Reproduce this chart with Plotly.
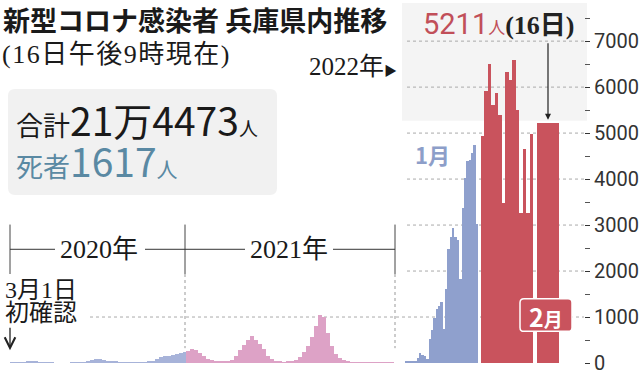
import plotly.graph_objects as go
import pandas as pd

# ---------------- data ----------------
weeks_2020 = pd.date_range("2020-03-01", periods=44, freq="7D")
cases_2020 = [3, 8, 10, 12, 25, 40, 35, 20, 10, 5, 2, 0, 0, 0, 0, 1, 2, 4, 10, 30,
              55, 80, 95, 70, 50, 35, 25, 20, 18, 15, 15, 15, 18, 20, 30, 50,
              90, 130, 160, 150, 180, 200, 210, 240]
weeks_2021 = pd.date_range("2021-01-01", periods=52, freq="7D")
cases_2021 = [260, 300, 290, 220, 150, 95, 55, 40, 25, 25,
              40, 75, 150, 280, 400, 500, 580, 500, 420, 300,
              160, 90, 45, 30, 20, 30, 45, 70, 120, 240,
              360, 560, 800, 1040, 1000, 650, 380, 200, 100, 60,
              30, 20, 15, 10, 8, 8, 7, 7, 8, 10, 12, 15]
jan_days = list(range(1, 32))
cases_jan2022 = [25, 25, 30, 40, 50, 115, 220, 170, 150, 90, 515, 710, 975, 1170,
                 1250, 1335, 730, 1620, 2480, 2730, 2945, 2730, 2665, 1835, 3375,
                 4020, 4385, 4415, 4560, 4740, 3015]
feb_days = list(range(1, 16))
cases_feb2022 = [4940, 5920, 6510, 5610, 5865, 5400, 3480, 6330, 6150, 6580,
                 5505, 3270, 4645, 3270, 4980]
latest_day = [16]
latest_cases = [5211]

y_ticks = [0, 1000, 2000, 3000, 4000, 5000, 6000, 7000]
y_tick_labels = [str(v) for v in y_ticks]

title_text = "新型コロナ感染者 兵庫県内推移"
subtitle_text = "(16日午後9時現在)"
total_num = "21万4473"
death_num = "1617"
latest_label = "5211"

# ---------------- style ----------------
BLUE20 = "#a7b3d9"
PINK = "#dda2c6"
BLUE22 = "#8fa0cd"
RED = "#c9535d"
SANS = "Noto Sans CJK JP"
SERIF = "Liberation Serif, Noto Sans CJK JP"
NUM = "Roboto, Noto Sans CJK JP"

W, H = 640, 375
ML, MR, MT, MB = 0, 56, 10, 8
PW = W - ML - MR
PH = H - MT - MB
PB = H - MB


def px(x):
    return (x - ML) / PW


def py(y):
    return (PB - y) / PH


DAY_MS = 86400000


def bar(x, y, color, axis, width):
    return go.Bar(x=x, y=y, width=width, offset=0 if axis == "x" else None,
                  marker=dict(color=color, line=dict(width=0)), xaxis=axis, yaxis="y",
                  hoverinfo="skip")


fig = go.Figure()
fig.add_trace(bar(weeks_2020, cases_2020, BLUE20, "x", 7 * DAY_MS))
fig.add_trace(bar(weeks_2021, cases_2021, PINK, "x", 7 * DAY_MS))
fig.add_trace(bar(jan_days, cases_jan2022, BLUE22, "x2", 1))
fig.add_trace(bar(feb_days, cases_feb2022, RED, "x3", 1))
fig.add_trace(bar(latest_day, latest_cases, RED, "x4", 1))

shapes = []
# light gray panel behind 2022 header
shapes.append(dict(type="rect", xref="paper", yref="paper", x0=px(402), x1=px(587),
                   y0=py(122), y1=py(3), fillcolor="#f4f4f4", line=dict(width=0), layer="below"))


def rounded_rect(x0, y0, x1, y1, r):
    X0, X1 = px(x0), px(x1)
    Y0, Y1 = py(y0), py(y1)  # Y0 top, Y1 bottom
    rx = r / PW
    ry = r / PH
    return (f"M {X0+rx},{Y0} L {X1-rx},{Y0} Q {X1},{Y0} {X1},{Y0-ry} "
            f"L {X1},{Y1+ry} Q {X1},{Y1} {X1-rx},{Y1} L {X0+rx},{Y1} "
            f"Q {X0},{Y1} {X0},{Y1+ry} L {X0},{Y0-ry} Q {X0},{Y0} {X0+rx},{Y0} Z")


shapes.append(dict(type="path", xref="paper", yref="paper", path=rounded_rect(8, 90, 277, 197, 7),
                   fillcolor="#f1f1f1", line=dict(width=0), layer="below"))

# dotted gridlines
for v in y_ticks[1:]:
    x_start = px(90) if v == 1000 else px(407)
    shapes.append(dict(type="line", xref="paper", yref="y", x0=x_start, x1=1, y0=v, y1=v,
                       line=dict(color="#aaaaaa", width=1, dash="dot"), layer="below"))

# year bracket lines
for xv in (10, 185, 395):
    shapes.append(dict(type="line", xref="paper", yref="paper", x0=px(xv), x1=px(xv),
                       y0=py(227), y1=py(277), line=dict(color="#444", width=1)))
for xv in (185, 395):
    shapes.append(dict(type="line", xref="paper", yref="paper", x0=px(xv), x1=px(xv),
                       y0=py(277), y1=py(352), line=dict(color="#999", width=1, dash="dot"),
                       layer="below"))
for a, b in ((10, 55), (145, 245), (333, 395)):
    shapes.append(dict(type="line", xref="paper", yref="paper", x0=px(a), x1=px(b),
                       y0=py(252), y1=py(252), line=dict(color="#333", width=1)))

# 2月 tag box
shapes.append(dict(type="path", xref="paper", yref="paper", path=rounded_rect(520, 302, 572, 335, 4),
                   fillcolor=RED, line=dict(color="white", width=1.5)))

annotations = []


def txt(text, x, y, size, family, color="#1a1a1a", xanchor="left", yanchor="middle"):
    annotations.append(dict(text=text, x=px(x), y=py(y), xref="paper", yref="paper",
                            showarrow=False, xanchor=xanchor, yanchor=yanchor, align="left",
                            font=dict(size=size, family=family, color=color)))


txt("<b>" + title_text + "</b>", 1, 20, 27, SANS)
txt("<span style=\"letter-spacing:1.5px\">" + subtitle_text + "</span>", 0, 55, 26, SERIF)
txt("2022年<span style=\"font-size:13px\">▶</span>", 399, 67, 25, SERIF, xanchor="right")

# summary box: two lines in one block
summary = ("<span style=\"font-size:27px\">合計</span>"
           "<span style=\"font-size:39px\">" + total_num + "</span>"
           "<span style=\"font-size:19px\">人</span><br>"
           "<span style=\"color:#5a89a3\"><span style=\"font-size:27px\">死者</span>"
           "<span style=\"font-size:39px\">" + death_num + "</span>"
           "<span style=\"font-size:21px\">人</span></span>")
txt(summary, 14, 141, 31.5, SANS)

txt("<b>1月</b>", 413, 156, 22, SANS, color="#8d9ec9")
txt("<b>2</b><span style=\"font-size:19px\"><b>月</b></span>", 546, 319, 25, SANS,
    color="white", xanchor="center")
txt("<span style=\"font-family:'Liberation Sans Narrow',Roboto;font-size:29px;color:#c14f59\">"
    + latest_label + "</span>"
    "<span style=\"font-size:17px;color:#c14f59\">人</span>"
    "<span style=\"font-family:'Liberation Serif','Noto Sans CJK JP';font-size:26px;color:#222\"><b>(16日)</b></span>",
    421, 24, 24, SANS)
txt("2020年", 99, 252, 26, SERIF, xanchor="center")
txt("2021年", 289, 252, 26, SERIF, xanchor="center")
txt("<span style=\"font-size:24px\">3月1日</span><br>"
    "<span style=\"font-size:24px\">初確認</span>", 3, 305, 17.5, SERIF)

# arrow under 初確認
annotations.append(dict(text="", x=px(10), y=py(354), xref="paper", yref="paper",
                        showarrow=True, ax=0, ay=-24, arrowhead=5, arrowsize=1.6,
                        arrowwidth=1.3, arrowcolor="#222", standoff=0))
# arrow to latest bar
annotations.append(dict(text="", x=px(548), y=py(121), xref="paper", yref="paper",
                        showarrow=True, ax=0, ay=-78, arrowhead=2, arrowsize=1,
                        arrowwidth=1.2, arrowcolor="#222", standoff=0))

fig.update_layout(
    width=W, height=H, autosize=False,
    margin=dict(l=ML, r=MR, t=MT, b=MB, pad=0),
    paper_bgcolor="white", plot_bgcolor="rgba(0,0,0,0)",
    showlegend=False, barmode="overlay", bargap=0, bargroupgap=0,
    xaxis=dict(domain=[px(10), px(395)], range=["2020-03-01", "2022-01-01"], type="date",
               visible=False, anchor="y"),
    xaxis2=dict(domain=[px(405), px(478)], range=[0.5, 31.5], visible=False, anchor="y"),
    xaxis3=dict(domain=[px(481), px(533)], range=[0.5, 15.5], visible=False, anchor="y"),
    xaxis4=dict(domain=[px(537), px(559)], range=[15.5, 16.5], visible=False, anchor="y"),
    yaxis=dict(range=[0, 7677], side="right", anchor="free", position=1,
               tickvals=y_ticks, ticktext=y_tick_labels, ticks="outside", ticklen=5,
               tickwidth=1, tickcolor="#333", showgrid=False, zeroline=False, showline=False,
               ticklabeloverflow="allow",
               tickfont=dict(family=NUM, size=20, color="#333"),
               minor=dict(dtick=500, tick0=0, ticks="outside", ticklen=5, tickwidth=1,
                          tickcolor="#555", showgrid=False)),
    shapes=shapes, annotations=annotations,
)

fig.write_html("out.html")
